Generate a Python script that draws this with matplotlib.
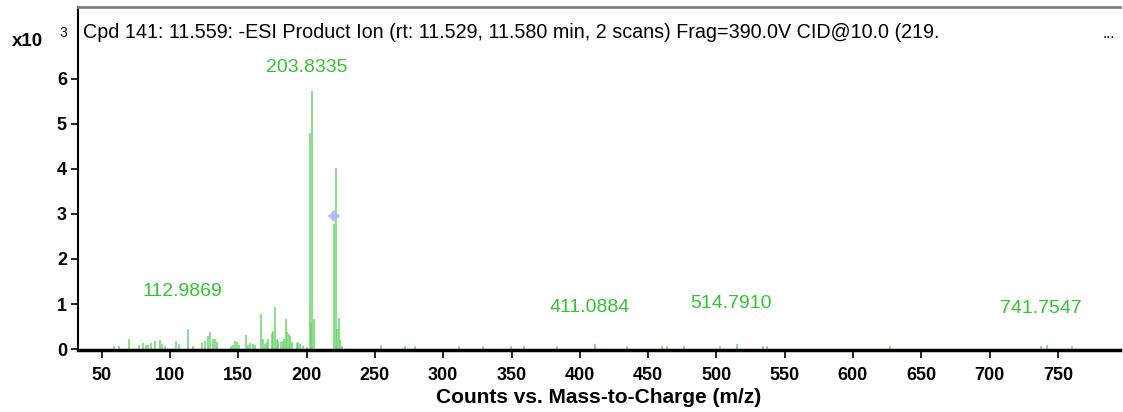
import matplotlib.pyplot as plt

plt.rcParams['font.family'] = ['Liberation Sans', 'DejaVu Sans']

# product ion spectrum, intensities in units of 10^3 counts
mz = [59.2, 62.7, 69.8, 77.1, 80.5, 82.4, 84.1, 86.1, 88.8, 92.7, 94.1, 96.6,
      104.4, 106.4, 112.9869, 117.1, 123.4, 125.4, 127.6, 129.3, 131.3, 132.9, 134.4,
      144.4, 145.9, 147.6, 148.8, 150.7, 155.4, 156.9, 158.6, 160.5, 162.2,
      166.6, 167.9, 169.5, 170.8, 172.0, 174.5, 175.6, 176.9, 178.1, 179.3,
      181.0, 182.5, 183.5, 184.9, 185.9, 186.9, 187.8, 189.1, 192.8, 193.9,
      195.2, 197.6, 200.1, 202.6, 203.2, 203.8335, 205.6,
      220.1, 221.5, 221.9, 223.7, 224.4, 226.1,
      254.2, 272.0, 279.1, 311.8, 328.9, 349.4, 359.4, 383.1, 411.0884,
      434.3, 460.2, 463.6, 476.3, 502.6, 514.7910, 533.9, 537.2,
      627.1, 737.9, 741.7547, 760.6]
intensity = [0.07, 0.06, 0.23, 0.10, 0.13, 0.10, 0.10, 0.13, 0.18, 0.20, 0.12, 0.07,
             0.17, 0.11, 0.44, 0.07, 0.13, 0.18, 0.29, 0.38, 0.22, 0.23, 0.15,
             0.06, 0.09, 0.17, 0.16, 0.10, 0.31, 0.09, 0.13, 0.12, 0.09,
             0.77, 0.23, 0.11, 0.16, 0.22, 0.35, 0.40, 0.94, 0.22, 0.18,
             0.15, 0.18, 0.22, 0.67, 0.37, 0.33, 0.29, 0.16, 0.13, 0.15,
             0.11, 0.06, 0.05, 4.80, 0.59, 5.72, 0.67,
             2.77, 4.02, 0.44, 0.70, 0.20, 0.07,
             0.10, 0.06, 0.06, 0.06, 0.06, 0.06, 0.06, 0.06, 0.12,
             0.06, 0.06, 0.06, 0.06, 0.06, 0.12, 0.06, 0.06,
             0.06, 0.06, 0.10, 0.06]

# labelled ions and where their labels sit
label_mz = [203.8335, 112.9869, 411.0884, 514.7910, 741.7547]
label_y = [6.24, 1.28, 0.93, 1.02, 0.91]

precursor_mz = 219.95
precursor_y = 2.95

title = 'Cpd 141: 11.559: -ESI Product Ion (rt: 11.529, 11.580 min, 2 scans) Frag=390.0V CID@10.0 (219.'

fig = plt.figure(figsize=(11.23, 4.12), dpi=100)
ax = fig.add_axes([78 / 1123, 62 / 412, 1042 / 1123, 343 / 412])

ax.vlines(mz, 0, intensity, color='#6ad66a', linewidth=1.1)
ax.plot([precursor_mz], [precursor_y], 'D', color='#b4bcf2', markersize=6.5,
        markeredgewidth=0)

for m, y in zip(label_mz, label_y):
    ax.annotate('%.4f' % m, (m, y), xytext=(-4, 0), textcoords='offset points',
                ha='center', va='center', color='#33c433', fontsize=14)

ax.set_xlim(32.6, 795.5)
ax.set_ylim(-0.02, 7.59)
ax.set_xticks(range(50, 800, 50))
ax.set_yticks(range(0, 7))
ax.tick_params(axis='both', direction='out', labelsize=13, colors='black')
ax.tick_params(axis='x', length=6, width=1.2, pad=6)
ax.tick_params(axis='y', length=5, width=1.2, pad=3)
for lbl in ax.get_xticklabels() + ax.get_yticklabels():
    lbl.set_fontweight('bold')

ax.spines['right'].set_visible(False)
ax.spines['top'].set_color('#808080')
ax.spines['top'].set_linewidth(2)
ax.spines['left'].set_linewidth(1.5)
ax.spines['bottom'].set_linewidth(2.5)

ax.set_xlabel('Counts vs. Mass-to-Charge (m/z)', fontsize=15, fontweight='bold', labelpad=3)

ax.text(0.005, 0.925, title, transform=ax.transAxes, fontsize=14.2, va='center', ha='left')
ax.text(0.995, 0.92, '...', transform=ax.transAxes, fontsize=11, va='center', ha='right')

fig.text(12 / 1123, 1 - 41 / 412, 'x10', fontsize=13.5, fontweight='bold', va='center', ha='left')
fig.text(59 / 1123, 1 - 33 / 412, '3', fontsize=10, va='center', ha='left')

fig.savefig('out.png', dpi=100)
